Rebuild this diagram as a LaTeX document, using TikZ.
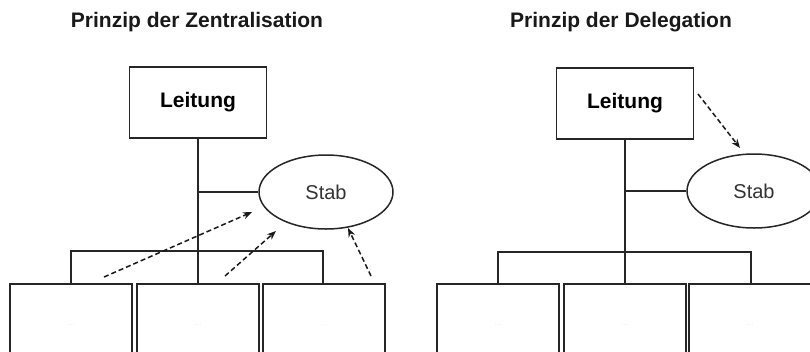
\documentclass[tikz,border=0pt]{standalone}
\usepackage{fontspec}
\setmainfont{Liberation Sans}
\usetikzlibrary{shapes.geometric,arrows.meta}
\begin{document}
\begin{tikzpicture}[x=1pt,y=-1pt,
  line/.style={line width=1.5pt, draw=black!85},
  leitbox/.style={draw=black!85, line width=1.5pt, fill=white, minimum width=137pt, minimum height=71pt, inner sep=0pt, font=\fontsize{21}{24}\selectfont\bfseries},
  stabell/.style={ellipse, draw=black!85, line width=1.5pt, fill=white, minimum width=134pt, minimum height=74pt, inner sep=0pt, font=\fontsize{20}{23}\selectfont, text=black!80},
  unitbox/.style={draw=black!85, line width=1.5pt, fill=white, minimum width=122pt, minimum height=120pt, inner sep=0pt, anchor=north},
  dots/.style={text=black!8, font=\fontsize{9}{10}\selectfont},
  titletext/.style={font=\fontsize{21}{24}\selectfont\bfseries, text=black!90},
  darrow/.style={line width=1.5pt, draw=black!90, dash pattern=on 5pt off 3pt, -{Stealth[length=9pt,width=7pt]}}
]
\clip (0,0) rectangle (810,351);
\fill[white] (0,0) rectangle (810,351);

% ---------- left: Zentralisation ----------
\node[titletext] (t1) at (197,22) {Prinzip der Zentralisation};
\node[leitbox] (L1) at (198,102.5) {Leitung};
\node[stabell] (S1) at (326,192) {Stab};
\coordinate (j1) at (198,192);
\coordinate (bus1l) at (71,251);
\coordinate (bus1r) at (323,251);
\node[unitbox] (b11) at (71,283) {};
\node[unitbox] (b12) at (198,283) {};
\node[unitbox] (b13) at (324,283) {};
\node[dots] at (71,325) {...};
\node[dots] at (198,325) {...};
\node[dots] at (324,325) {...};
\draw[line] (L1.south) -- (b12.north);
\draw[line] (j1) -- (S1.west);
\draw[line] (b11.north) -- (bus1l) -- (bus1r) -- (b13.north -| bus1r);
\coordinate (a1s) at (104,277);
\coordinate (a1e) at (252,212);
\coordinate (a2s) at (225,276);
\coordinate (a2e) at (276,231);
\coordinate (a3s) at (371,276);
\coordinate (a3e) at (348,228);
\draw[darrow] (a1s) -- (a1e);
\draw[darrow] (a2s) -- (a2e);
\draw[darrow] (a3s) -- (a3e);

% ---------- right: Delegation ----------
\node[titletext] (t2) at (621,22) {Prinzip der Delegation};
\node[leitbox] (L2) at (625,103.5) {Leitung};
\node[stabell] (S2) at (754,191) {Stab};
\coordinate (j2) at (625,191);
\coordinate (bus2l) at (498,252);
\coordinate (bus2r) at (751,252);
\node[unitbox] (b21) at (498,283) {};
\node[unitbox] (b22) at (625,283) {};
\node[unitbox] (b23) at (750,283) {};
\node[dots] at (498,325) {...};
\node[dots] at (625,325) {...};
\node[dots] at (750,325) {...};
\draw[line] (L2.south) -- (b22.north);
\draw[line] (j2) -- (S2.west);
\draw[line] (b21.north) -- (bus2l) -- (bus2r) -- (b23.north -| bus2r);
\coordinate (a4s) at (698,94);
\coordinate (a4e) at (740,148);
\draw[darrow] (a4s) -- (a4e);
\end{tikzpicture}
\end{document}
